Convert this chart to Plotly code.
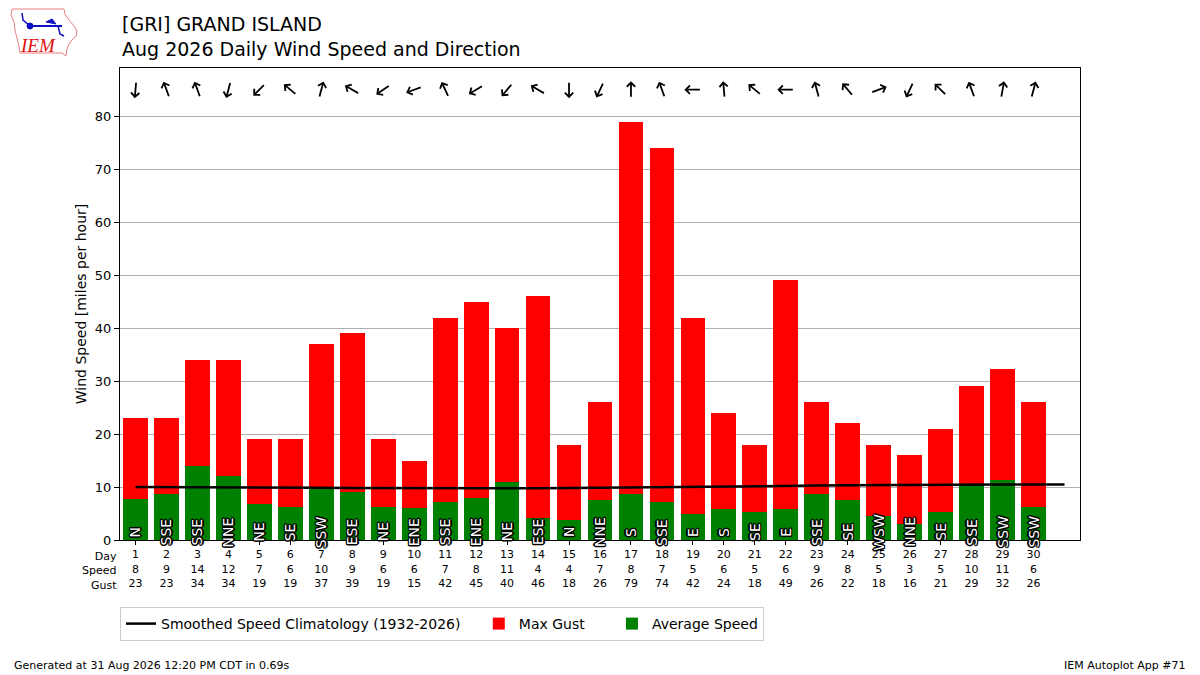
import math
import plotly.graph_objects as go

# daily data, August 2026, GRI
days = list(range(1, 31))
avg_speed = [7.8, 8.7, 14.0, 12.0, 6.8, 6.3, 10.0, 9.0, 6.3, 6.1, 7.2, 8.0, 10.9, 4.2, 3.8,
             7.5, 8.6, 7.1, 4.9, 5.9, 5.2, 5.9, 8.7, 7.6, 4.6, 3.0, 5.3, 10.4, 11.4, 6.3]
max_gust = [23, 23, 34, 34, 19, 19, 37, 39, 19, 15, 42, 45, 40, 46, 18,
            26, 79, 74, 42, 24, 18, 49, 26, 22, 18, 16, 21, 29, 32.2, 26]
speed_txt = [8, 9, 14, 12, 7, 6, 10, 9, 6, 6, 7, 8, 11, 4, 4,
             7, 8, 7, 5, 6, 5, 6, 9, 8, 5, 3, 5, 10, 11, 6]
gust_txt = [23, 23, 34, 34, 19, 19, 37, 39, 19, 15, 42, 45, 40, 46, 18,
            26, 79, 74, 42, 24, 18, 49, 26, 22, 18, 16, 21, 29, 32, 26]
drct_deg = [5, 160, 160, 15, 45, 130, 195, 120, 55, 70, 155, 60, 40, 120, 0,
            25, 180, 160, 90, 175, 130, 90, 165, 140, 250, 25, 135, 160, 190, 195]
drct_txt = ["N", "SSE", "SSE", "NNE", "NE", "SE", "SSW", "ESE", "NE", "ENE", "SSE", "ENE", "NE", "ESE", "N",
            "NNE", "S", "SSE", "E", "S", "SE", "E", "SSE", "SE", "WSW", "NNE", "SE", "SSE", "SSW", "SSW"]

# smoothed climatology, all 31 days of August
climo_days = list(range(1, 32))
climo_speed = [10.0, 10.0, 9.98, 9.95, 9.92, 9.9, 9.87, 9.83, 9.8, 9.78, 9.76, 9.75, 9.75, 9.77, 9.8,
               9.84, 9.88, 9.93, 9.98, 10.05, 10.12, 10.2, 10.27, 10.33, 10.38, 10.42, 10.44, 10.45,
               10.46, 10.48, 10.5]

W, H = 1200, 675
L, R, T, B = 120, 120, 68, 135
FONT = "DejaVu Sans"
NB = "\u00a0"

fig = go.Figure()
fig.add_trace(go.Bar(x=days, y=max_gust, width=0.8, marker=dict(color="#ff0000", line=dict(width=0)),
                     name="Max Gust" + NB * 5, legendrank=2, hoverinfo="x+y"))
fig.add_trace(go.Bar(x=days, y=avg_speed, width=0.8, marker=dict(color="#008000", line=dict(width=0)),
                     name="Average Speed", legendrank=3, hoverinfo="x+y"))
fig.add_trace(go.Scatter(x=climo_days, y=climo_speed, mode="lines", line=dict(color="black", width=2.5),
                         name="Smoothed Speed Climatology (1932-2026)" + NB * 3, legendrank=1))

annotations = []
# direction text inside bars, white with a black outline
outline = ", ".join(f"{a}px {b}px 0 #000" for a, b in
                    [(-1, -1), (1, -1), (-1, 1), (1, 1), (0, 1.5), (0, -1.5), (1.5, 0), (-1.5, 0)])
for d, txt in zip(days, drct_txt):
    annotations.append(dict(x=d, y=1.5, text=txt, showarrow=False, textangle=-90,
                            xanchor="center", yanchor="middle",
                            font=dict(family=FONT, size=14, color="white", shadow=outline)))

# direction arrows along the top (pointing where the wind blows to)
alen = 17
for d, deg in zip(days, drct_deg):
    t = math.radians((deg + 180) % 360)
    dx = math.sin(t) * alen
    dy = math.cos(t) * alen
    annotations.append(dict(x=d, y=85, text="", showarrow=True, arrowhead=4, arrowsize=0.9,
                            arrowwidth=1.8, arrowcolor="black", ax=-dx, ay=dy,
                            xshift=dx / 2, yshift=dy / 2, standoff=0))

# table row labels
annotations.append(dict(xref="paper", yref="paper", x=-0.001, y=-0.0175, xanchor="right", yanchor="top",
                        text="Day<br>Speed<br>Gust", align="right", showarrow=False,
                        font=dict(family=FONT, size=11, color="black")))

# title
annotations.append(dict(xref="paper", yref="paper", x=0, y=(T - 11) / (H - T - B) + 1, xanchor="left",
                        yanchor="top", align="left", showarrow=False,
                        text="[GRI] GRAND ISLAND<br>Aug 2026 Daily Wind Speed and Direction",
                        font=dict(family=FONT, size=19, color="black")))

# footer
annotations.append(dict(xref="paper", yref="paper", x=-(L - 12) / (W - L - R), y=-(665 - (H - B)) / (H - T - B),
                        xanchor="left", yanchor="middle", showarrow=False,
                        text="Generated at 31 Aug 2026 12:20 PM CDT in 0.69s",
                        font=dict(family=FONT, size=11, color="black")))
annotations.append(dict(xref="paper", yref="paper", x=1 + (R - 12) / (W - L - R), y=-(665 - (H - B)) / (H - T - B),
                        xanchor="right", yanchor="middle", showarrow=False,
                        text="IEM Autoplot App #71",
                        font=dict(family=FONT, size=11, color="black")))


# IEM logo, roughly drawn in pixel space
def px(x, y):
    return (x - L) / (W - L - R), (H - B - y) / (H - T - B)


def path(points, close=True):
    s = ""
    for i, (x, y) in enumerate(points):
        a, b = px(x, y)
        s += ("M" if i == 0 else "L") + f"{a:.4f},{b:.4f} "
    return s + ("Z" if close else "")


iowa = [(12, 9), (64, 9), (65, 14), (69, 20), (74, 26), (77, 31), (76, 36), (72, 40), (69, 44),
        (67, 49), (66, 56), (62, 53), (20, 53), (19, 46), (17, 38), (15, 30), (14, 22), (11, 15)]
shapes = [dict(type="path", xref="paper", yref="paper", path=path(iowa),
               line=dict(color="#e88080", width=1), fillcolor="rgba(0,0,0,0)")]
shapes.append(dict(type="path", xref="paper", yref="paper",
                   path=path([(30, 26), (62, 26)], close=False), line=dict(color="#1010c0", width=2)))
shapes.append(dict(type="path", xref="paper", yref="paper",
                   path=path([(30, 26), (23, 20), (22, 13)], close=False), line=dict(color="#1010c0", width=1.5)))
shapes.append(dict(type="path", xref="paper", yref="paper",
                   path=path([(46, 22), (52, 19), (56, 24)]), line=dict(color="#1010c0", width=1), fillcolor="#1010c0"))
shapes.append(dict(type="path", xref="paper", yref="paper",
                   path=path([(58, 26), (60, 34), (64, 36)], close=False), line=dict(color="#1010c0", width=1.5)))
a0, b0 = px(27, 23)
a1, b1 = px(33, 29)
shapes.append(dict(type="circle", xref="paper", yref="paper", x0=a0, y0=b0, x1=a1, y1=b1,
                   line=dict(color="#1010c0", width=1), fillcolor="#1010c0"))
lx, ly = px(38, 45)
annotations.append(dict(xref="paper", yref="paper", x=lx, y=ly, text="<i>IEM</i>", showarrow=False,
                        xanchor="center", yanchor="middle",
                        font=dict(family="Liberation Serif", size=19, color="#dd1111")))

fig.update_layout(
    width=W, height=H,
    margin=dict(l=L, r=R, t=T, b=B, pad=0),
    paper_bgcolor="white", plot_bgcolor="white",
    barmode="overlay", bargap=0,
    font=dict(family=FONT, size=13, color="black"),
    showlegend=True,
    legend=dict(orientation="h", x=0, xanchor="left", y=-(607 - (H - B)) / (H - T - B), yanchor="top",
                bordercolor="#cccccc", borderwidth=1, bgcolor="white", itemwidth=30,
                font=dict(family=FONT, size=14), traceorder="normal", tracegroupgap=0),
    annotations=annotations,
    shapes=shapes,
)
fig.update_xaxes(range=[0.5, 31.5], tickmode="array", tickvals=days,
                 ticktext=[f"{d}<br>{s}<br>{g}" for d, s, g in zip(days, speed_txt, gust_txt)],
                 tickfont=dict(family=FONT, size=11), ticks="outside", ticklen=4, tickcolor="black",
                 showline=True, linecolor="black", linewidth=1, mirror=True, showgrid=False, zeroline=False)
fig.update_yaxes(range=[0, 89.1], tickmode="array", tickvals=list(range(0, 90, 10)),
                 title=dict(text="Wind Speed [miles per hour]", font=dict(family=FONT, size=14), standoff=4),
                 tickfont=dict(family=FONT, size=13), ticks="outside", ticklen=5, tickcolor="black",
                 showline=True, linecolor="black", linewidth=1, mirror=True,
                 showgrid=True, gridcolor="#b0b0b0", gridwidth=1, zeroline=False)

fig.write_html("out.html", config={"displayModeBar": False},
               post_script="document.body.style.margin='0';")
